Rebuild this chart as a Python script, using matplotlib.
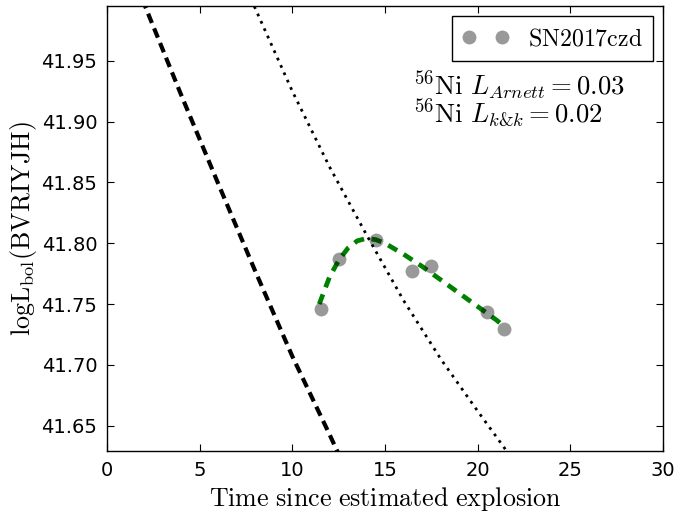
import matplotlib
matplotlib.use("Agg")
import matplotlib.pyplot as plt
from matplotlib.ticker import FormatStrFormatter

plt.rcParams['mathtext.fontset'] = 'cm'
plt.rcParams['font.family'] = ['DejaVu Sans']

# Observed bolometric points (SN2017czd)
obs_t = [11.53, 12.5, 14.5, 16.46, 17.46, 20.53, 21.43]
obs_L = [41.746, 41.787, 41.803, 41.777, 41.781, 41.7435, 41.7295]

# Fit curve (green dashed)
fit_t = [11.45, 12.0, 12.5, 13.0, 13.5, 14.0, 14.5, 15.0, 16.0, 17.0, 18.0, 19.0, 20.0, 21.0, 21.4]
fit_L = [41.750, 41.772, 41.786, 41.796, 41.802, 41.804, 41.803, 41.800, 41.791, 41.781, 41.770, 41.759, 41.748, 41.737, 41.732]

# Arnett model (black dashed)
arn_t = [1.5, 2.0, 4.0, 6.0, 8.0, 10.0, 12.0, 13.0]
arn_L = [42.016, 41.997, 41.922, 41.849, 41.777, 41.707, 41.643, 41.610]

# K&K model (black dotted)
kk_t = [7.5, 8.0, 10.0, 12.0, 14.0, 16.0, 18.0, 20.0, 22.0]
kk_L = [42.010, 41.993, 41.925, 41.863, 41.807, 41.753, 41.705, 41.662, 41.620]

x_ticks = [0, 5, 10, 15, 20, 25, 30]
y_ticks = [41.65, 41.70, 41.75, 41.80, 41.85, 41.90, 41.95]

fig = plt.figure(figsize=(6.8, 5.15), dpi=100)
ax = fig.add_axes([0.1574, 0.1243, 0.8176, 0.864])

ax.plot(arn_t, arn_L, color='k', lw=3, ls=(0, (2.4, 1.4)))
ax.plot(kk_t, kk_L, color='k', lw=2, ls=(0, (1, 1.9)))
ax.plot(fit_t, fit_L, color='green', lw=3.4, ls=(0, (2.2, 1.6)))
ax.plot(obs_t, obs_L, 'o', color='k', alpha=0.4, ms=10, mec='none',
        label=r'$\mathrm{SN2017czd}$')

ax.set_xlim(0, 30)
ax.set_ylim(41.6292, 41.9951)
ax.set_xticks(x_ticks)
ax.set_yticks(y_ticks)
ax.yaxis.set_major_formatter(FormatStrFormatter('%.2f'))
ax.tick_params(direction='in', top=True, right=True, labelsize=14, length=5, width=0.8, pad=7)
for s in ax.spines.values():
    s.set_linewidth(1.0)

ax.set_xlabel(r'$\mathrm{Time\ since\ estimated\ explosion}$', fontsize=18.7, labelpad=4)
ax.set_ylabel(r'$\mathrm{logL_{bol}(BVRIYJH)}$', fontsize=18.7, labelpad=2)

ax.text(16.5, 41.8997,
        r'$^{56}\mathrm{Ni}\ L_{Arnett} = 0.03$' + '\n' + r'$^{56}\mathrm{Ni}\ L_{k&k} = 0.02$',
        fontsize=19.3, va='baseline', linespacing=0.74)

leg = ax.legend(loc='upper right', numpoints=2, fontsize=17.2, fancybox=False,
                framealpha=1, edgecolor='k', borderaxespad=0.4, borderpad=0.45,
                handlelength=1.98, handletextpad=0.77)
leg.get_frame().set_linewidth(1.0)

fig.savefig('out.png', dpi=100, facecolor='white')
